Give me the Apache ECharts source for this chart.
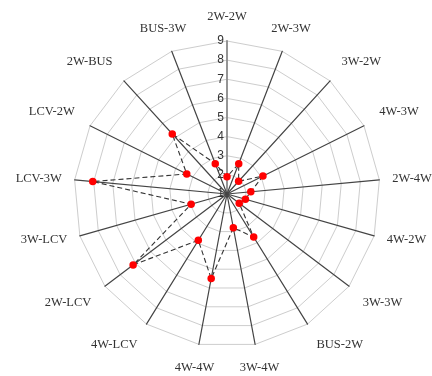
<!DOCTYPE html>
<html>
<head>
<meta charset="utf-8">
<script src="https://cdn.jsdelivr.net/npm/echarts@6/dist/echarts.min.js"></script>
<style>html,body{margin:0;padding:0;background:#fff;}#chart{width:432px;height:376px;}</style>
</head>
<body>
<div id="chart"></div>
<script>
// Categories listed clockwise starting at the top
const categories = ['2W-2W','2W-3W','3W-2W','4W-3W','2W-4W','4W-2W','3W-3W','BUS-2W','3W-4W','4W-4W','4W-LCV','2W-LCV','3W-LCV','LCV-3W','LCV-2W','2W-BUS','BUS-3W'];
const values = [1.9, 2.7, 1.9, 3.1, 2.25, 2.0, 1.8, 3.65, 2.8, 5.5, 3.85, 7.15, 2.95, 8.05, 3.35, 5.25, 2.7];
const axisMin = 1;
const axisMax = 9;
const tickCount = 8;

// ECharts places radar indicators counter-clockwise; reorder to draw clockwise
const n = categories.length;
const order = [0].concat(categories.map((_, i) => i).slice(1).reverse());
const indicators = order.map((i, k) => {
  const ang = 2 * Math.PI * i / n;
  const c = Math.cos(ang);
  const ind = { name: categories[i], min: axisMin, max: axisMax };
  if (Math.abs(c) > 0.9) {
    ind.nameGap = 24;
    ind.nameTextStyle = { align: 'center', verticalAlign: 'middle' };
  } else if (Math.abs(c) > 0.3) {
    ind.nameGap = 17;
    ind.nameTextStyle = { verticalAlign: c > 0 ? 'bottom' : 'top' };
  } else {
    ind.nameGap = 13;
  }
  if (k === 0) {
    ind.axisLabel = { show: true };
    ind.axisLine = { lineStyle: { color: '#8a8a8a', width: 1.8 } };
  }
  return ind;
});
const orderedValues = order.map(i => values[i]);

const chart = echarts.init(document.getElementById('chart'), null, { renderer: 'canvas' });
chart.setOption({
  animation: false,
  backgroundColor: '#fff',
  radar: {
    center: [227, 194],
    radius: 153,
    startAngle: 90,
    shape: 'polygon',
    splitNumber: tickCount,
    indicator: indicators,
    axisName: {
      color: '#333',
      fontFamily: 'Liberation Serif',
      fontSize: 12.5
    },
    axisLine: { show: true, lineStyle: { color: '#444', width: 1.2 } },
    axisTick: { show: false },
    axisLabel: {
      show: false,
      color: '#333',
      fontFamily: 'Liberation Sans',
      fontSize: 12,
      margin: 3
    },
    splitLine: { lineStyle: { color: '#cdcdcd', width: 1 } },
    splitArea: { show: false }
  },
  series: [{
    type: 'radar',
    symbol: 'circle',
    symbolSize: 7.5,
    itemStyle: { color: '#ff0000' },
    lineStyle: { color: '#333', width: 1.1, type: [5, 3] },
    data: [{ value: orderedValues }]
  }]
});
</script>
</body>
</html>
